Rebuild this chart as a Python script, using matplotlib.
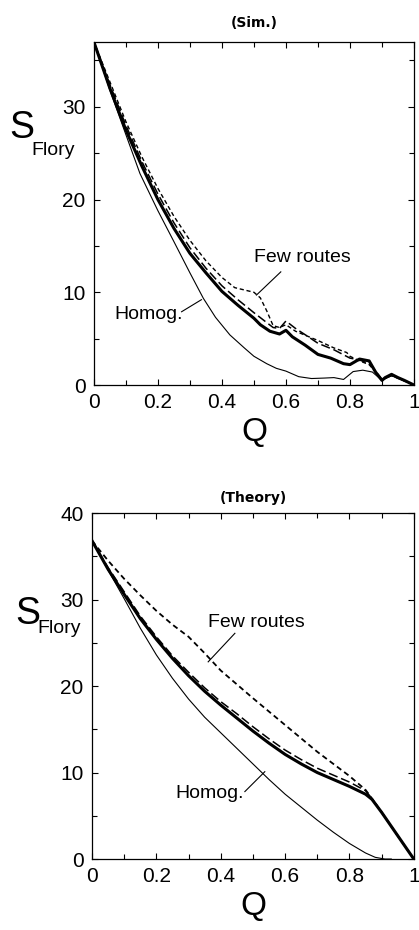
import matplotlib
matplotlib.use("Agg")
import matplotlib.pyplot as plt
from matplotlib.ticker import MultipleLocator

plt.rcParams['font.family'] = ['Liberation Sans Narrow', 'Liberation Sans', 'DejaVu Sans']

# --- simulation panel data ---
sim_homog_q = [0, 0.05, 0.1, 0.144, 0.2, 0.248, 0.3, 0.342, 0.38, 0.425, 0.47, 0.5, 0.54, 0.57, 0.6, 0.64, 0.68, 0.72, 0.75, 0.78, 0.81, 0.84, 0.87, 0.89, 0.9, 0.93, 0.96, 1.0]
sim_homog_s = [37, 31.8, 27.0, 22.8, 18.8, 15.6, 12.1, 9.35, 7.3, 5.4, 4.0, 3.1, 2.3, 1.8, 1.5, 0.9, 0.7, 0.75, 0.8, 0.6, 1.45, 1.6, 1.4, 0.8, 0.5, 1.0, 0.6, 0]

sim_main_q = [0, 0.05, 0.1, 0.15, 0.2, 0.25, 0.3, 0.35, 0.4, 0.45, 0.5, 0.52, 0.55, 0.58, 0.6, 0.62, 0.66, 0.7, 0.74, 0.78, 0.8, 0.83, 0.86, 0.88, 0.9, 0.91, 0.93, 0.95, 0.97, 1.0]
sim_main_s = [37, 32.0, 27.5, 23.6, 20.0, 16.9, 14.2, 12.1, 10.1, 8.6, 7.2, 6.5, 5.8, 5.5, 5.9, 5.2, 4.3, 3.3, 2.9, 2.3, 2.2, 2.8, 2.6, 1.4, 0.5, 0.8, 1.15, 0.8, 0.5, 0]

sim_dash_q = [0, 0.05, 0.1, 0.15, 0.2, 0.25, 0.3, 0.35, 0.4, 0.45, 0.5, 0.53, 0.56, 0.58, 0.6, 0.63, 0.67, 0.7, 0.75, 0.8, 0.83, 0.86, 0.88, 0.9, 0.93, 0.96, 1.0]
sim_dash_s = [37, 32.4, 28.0, 24.1, 20.6, 17.5, 14.8, 12.6, 10.7, 9.2, 7.8, 7.0, 6.2, 6.1, 6.9, 6.1, 5.2, 4.5, 3.8, 2.9, 2.7, 2.3, 1.5, 0.6, 1.1, 0.6, 0]

sim_few_q = [0, 0.05, 0.1, 0.15, 0.2, 0.25, 0.3, 0.35, 0.4, 0.44, 0.47, 0.5, 0.52, 0.54, 0.56, 0.58, 0.6, 0.63, 0.7, 0.75, 0.79, 0.8, 0.83, 0.86, 0.88, 0.9, 0.93, 0.96, 1.0]
sim_few_s = [37, 32.7, 28.4, 24.6, 21.2, 18.2, 15.6, 13.4, 11.6, 10.5, 10.25, 10.0, 9.4, 8.0, 6.4, 6.2, 6.5, 5.8, 4.8, 4.0, 3.5, 3.1, 2.6, 2.2, 1.4, 0.6, 1.0, 0.6, 0]

# --- theory panel data ---
th_homog_q = [0, 0.05, 0.1, 0.15, 0.2, 0.25, 0.3, 0.35, 0.4, 0.45, 0.5, 0.55, 0.6, 0.65, 0.7, 0.75, 0.8, 0.85, 0.88, 0.91, 0.93]
th_homog_s = [36.8, 33.4, 30.1, 26.7, 23.6, 20.9, 18.5, 16.4, 14.6, 12.8, 11.0, 9.2, 7.5, 6.0, 4.5, 3.1, 1.8, 0.7, 0.2, 0.0, 0.0]

th_main_q = [0, 0.05, 0.1, 0.15, 0.2, 0.25, 0.3, 0.35, 0.4, 0.45, 0.5, 0.55, 0.6, 0.65, 0.7, 0.75, 0.8, 0.85, 0.87, 0.9, 0.95, 1.0]
th_main_s = [36.8, 33.5, 30.6, 27.8, 25.4, 23.2, 21.2, 19.4, 17.8, 16.3, 14.8, 13.4, 12.1, 11.0, 10.0, 9.2, 8.4, 7.5, 6.9, 5.4, 2.7, 0]

th_dash_q = [0, 0.05, 0.1, 0.15, 0.2, 0.25, 0.3, 0.35, 0.4, 0.45, 0.5, 0.55, 0.6, 0.65, 0.7, 0.75, 0.8, 0.85, 0.87, 0.9, 0.95, 1.0]
th_dash_s = [36.8, 33.7, 30.9, 28.1, 25.7, 23.5, 21.6, 19.8, 18.2, 16.8, 15.3, 13.9, 12.6, 11.5, 10.5, 9.7, 8.9, 7.9, 7.0, 5.4, 2.7, 0]

th_few_q = [0, 0.05, 0.1, 0.15, 0.2, 0.25, 0.3, 0.35, 0.4, 0.5, 0.6, 0.7, 0.8, 0.85, 0.87, 0.9, 0.95, 1.0]
th_few_s = [36.8, 34.5, 32.4, 30.5, 28.7, 27.1, 25.7, 23.8, 21.8, 18.6, 15.5, 12.4, 9.6, 8.0, 7.0, 5.4, 2.7, 0]

fig = plt.figure(figsize=(4.19, 9.30), dpi=100)
ax1 = fig.add_axes([0.224, 0.586, 0.764, 0.369])
ax2 = fig.add_axes([0.2196, 0.0763, 0.768, 0.372])


def style_axes(ax, ymax, title, title_pad):
    ax.set_xlim(0, 1)
    ax.set_ylim(0, ymax)
    ax.xaxis.set_major_locator(MultipleLocator(0.2))
    ax.xaxis.set_minor_locator(MultipleLocator(0.1))
    ax.yaxis.set_major_locator(MultipleLocator(10))
    ax.yaxis.set_minor_locator(MultipleLocator(5))
    ax.set_xticks([0, 0.2, 0.4, 0.6, 0.8, 1.0])
    ax.set_xticklabels(['0', '0.2', '0.4', '0.6', '0.8', '1'])
    ax.tick_params(which='both', direction='in', top=True, right=True, width=0.8)
    ax.tick_params(which='major', length=4.5, labelsize=15, pad=6)
    ax.tick_params(which='minor', length=3.5)
    for sp in ax.spines.values():
        sp.set_linewidth(0.9)
    ax.set_xlabel('Q', fontsize=24, labelpad=3)
    ax.set_title(title, fontsize=10, fontweight='bold', family='DejaVu Sans', pad=title_pad)


# top panel (simulation)
ax1.plot(sim_homog_q, sim_homog_s, 'k-', lw=0.8)
ax1.plot(sim_dash_q, sim_dash_s, 'k--', lw=1.1, dashes=(6, 2.5))
ax1.plot(sim_few_q, sim_few_s, 'k--', lw=1.0, dashes=(3, 2))
ax1.plot(sim_main_q, sim_main_s, 'k-', lw=2.2)
style_axes(ax1, 37, '(Sim.)', 11)
ax1.set_yticks([0, 10, 20, 30])
ax1.text(0.65, 13.7, 'Few routes', fontsize=14, ha='center', va='center')
ax1.plot([0.584, 0.508], [12.2, 9.7], 'k-', lw=0.8)
ax1.text(0.17, 7.55, 'Homog.', fontsize=14, ha='center', va='center')
ax1.plot([0.274, 0.336], [7.9, 9.2], 'k-', lw=0.8)
ax1.text(-0.2625, 0.749, 'S', transform=ax1.transAxes, fontsize=27, ha='left', va='center')
ax1.text(-0.194, 0.67, 'Flory', transform=ax1.transAxes, fontsize=14, ha='left', va='baseline')

# bottom panel (theory)
ax2.plot(th_homog_q, th_homog_s, 'k-', lw=0.8)
ax2.plot(th_dash_q, th_dash_s, 'k--', lw=1.1, dashes=(6, 2.5))
ax2.plot(th_few_q, th_few_s, 'k--', lw=1.3, dashes=(3, 2))
ax2.plot(th_main_q, th_main_s, 'k-', lw=2.2)
style_axes(ax2, 40, '(Theory)', 8)
ax2.text(0.51, 27.3, 'Few routes', fontsize=14, ha='center', va='center')
ax2.plot([0.444, 0.361], [26.1, 22.8], 'k-', lw=0.8)
ax2.text(0.366, 7.6, 'Homog.', fontsize=14, ha='center', va='center')
ax2.plot([0.475, 0.537], [7.8, 10.1], 'k-', lw=0.8)
ax2.text(-0.239, 0.708, 'S', transform=ax2.transAxes, fontsize=27, ha='left', va='center')
ax2.text(-0.171, 0.653, 'Flory', transform=ax2.transAxes, fontsize=14, ha='left', va='baseline')

fig.savefig('out.png', dpi=100)
